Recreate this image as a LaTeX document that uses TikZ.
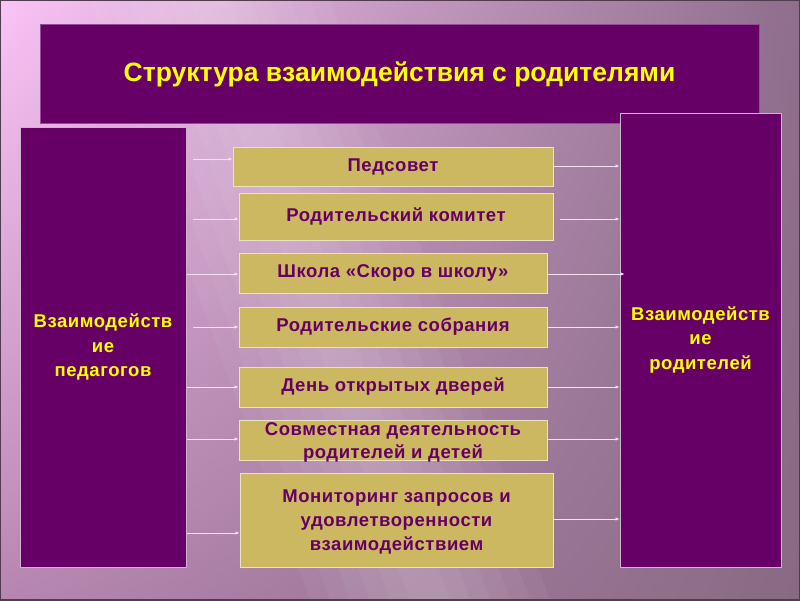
\documentclass[tikz,border=0pt]{standalone}
\usepackage{fontspec}
\setmainfont{Liberation Sans}
\newfontfamily\boxfont[LetterSpace=3]{Liberation Sans}
\usetikzlibrary{arrows.meta,shadings}
\definecolor{plum}{HTML}{660066}
\definecolor{khaki}{HTML}{CDB862}
\definecolor{ttl}{HTML}{FFFF00}
\definecolor{arr}{HTML}{F2E2F0}
\definecolor{bgul}{RGB}{250,196,246}
\definecolor{bgur}{RGB}{142,110,140}
\definecolor{bgll}{RGB}{182,134,176}
\definecolor{bglr}{RGB}{136,106,132}
\definecolor{frame}{RGB}{80,60,78}
\tikzset{
  sidebox/.style={draw=plum!30!white, line width=0.9pt, fill=plum, text=ttl, font=\boxfont\bfseries\fontsize{18.5}{24.5}\selectfont, align=center, inner sep=0pt},
  itembox/.style={draw=khaki!40!white, line width=0.9pt, fill=khaki, text=plum, font=\boxfont\bfseries\fontsize{18.5}{24}\selectfont, align=center, inner sep=0pt},
  itemtext/.style={text=plum, font=\boxfont\bfseries\fontsize{18.5}{24}\selectfont, align=center, inner sep=0pt},
  link/.style={draw=arr, line width=0.9pt, -{Latex[length=4pt,width=3.5pt]}},
  streak/.style={fill=white, opacity=0.045}
}
\begin{document}
\begin{tikzpicture}[x=1pt,y=-1pt]
\useasboundingbox (0,0) rectangle (800,600);
\shade[upper left=bgul, upper right=bgur, lower left=bgll, lower right=bglr] (0,0) rectangle (800,600);
\foreach \w in {20,40,60,80,100,120} {
  \fill[streak] (210-\w,0) -- (210+\w,0) -- (430+\w,600) -- (430-\w,600) -- cycle;
}
\draw[line width=2pt, draw=frame] (0,0) rectangle (800,600);
% title
\node[fill=plum, draw=plum!70!white, line width=0.8pt, minimum width=719pt, minimum height=99pt, inner sep=0pt,
      text=ttl, font=\bfseries\fontsize{26.5}{30}\selectfont] (title) at (399.5,74) {\raisebox{-2.5pt}{Структура взаимодействия с родителями}};
% side boxes
\node[sidebox, minimum width=166pt, minimum height=440pt] (L) at (103,347) {Взаимодейств\\ие\\педагогов};
\node[sidebox, minimum width=161pt, minimum height=454pt] (R) at (700.5,340) {Взаимодейств\\ие\\родителей};
% items
\node[itembox, minimum width=320pt, minimum height=39pt] (b1) at (393,166.5) {\raisebox{-1.5pt}{Педсовет}};
\node[itembox, minimum width=314pt, minimum height=47pt] (b2) at (396,216.5) {Родительский комитет};
\node[itembox, minimum width=308pt, minimum height=40pt] (b3) at (393,273) {Школа «Скоро в школу»};
\node[itembox, minimum width=308pt, minimum height=40pt] (b4) at (393,327) {Родительские собрания};
\node[itembox, minimum width=308pt, minimum height=40pt] (b5) at (393,387) {День открытых дверей};
\node[itembox, minimum width=308pt, minimum height=40pt] (b6) at (393,440) {};
\node[itemtext, font=\boxfont\bfseries\fontsize{18.5}{23.5}\selectfont] (t6) at (393,442.5) {Совместная деятельность\\родителей и детей};
\node[itembox, minimum width=313pt, minimum height=94pt] (b7) at (396.5,520) {};
\node[itemtext] (t7) at (396.5,522) {Мониторинг запросов и\\удовлетворенности\\взаимодействием};
% left arrows
\coordinate (l1) at (193,159);
\coordinate (l2) at (193,219);
\coordinate (l3) at (187,274);
\coordinate (l4) at (193,327);
\coordinate (l5) at (187,387);
\coordinate (l6) at (187,439);
\coordinate (l7) at (187,533);
\foreach \i in {1,...,7} {
  \draw[link] (l\i) -- (l\i -| b\i.west);
}
% right arrows
\coordinate (r1) at (600,166);
\coordinate (r2) at (600,219);
\coordinate (r3) at (600,274);
\coordinate (r4) at (600,327);
\coordinate (r5) at (600,387);
\coordinate (r6) at (600,439);
\coordinate (r7) at (600,519);
\draw[link] (r1 -| b1.east) -- (r1 -| R.west);
\draw[link, shorten <=7pt] (r2 -| b2.east) -- (r2 -| R.west);
\draw[link, shorten >=-5pt] (r3 -| b3.east) -- (r3 -| R.west);
\foreach \i in {4,...,7} {
  \draw[link] (r\i -| b\i.east) -- (r\i -| R.west);
}
\end{tikzpicture}
\end{document}
